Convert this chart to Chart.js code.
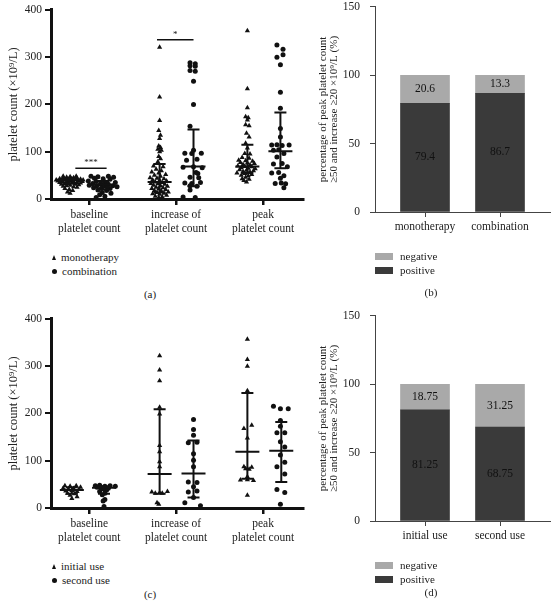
<!DOCTYPE html>
<html>
<head>
<meta charset="utf-8">
<script src="https://cdn.jsdelivr.net/npm/chart.js@4/dist/chart.umd.min.js"></script>
<style>
  body { margin: 0; background: #fff; width: 551px; height: 607px; position: relative; overflow: hidden;
         font-family: "Liberation Serif", serif; color: #222; }
  canvas { position: absolute; }
  .leg { position: absolute; font-size: 11px; }
  .row { height: 14px; display: flex; align-items: center; }
  .tri { width: 0; height: 0; border-left: 2.5px solid transparent; border-right: 2.5px solid transparent;
         border-bottom: 5px solid #111; margin: 0 5px 0 3px; }
  .dot { width: 5px; height: 5px; border-radius: 50%; background: #111; margin: 0 5px 0 3px; }
  .sw { width: 18px; height: 7px; margin-right: 7px; }
  .cap { position: absolute; font-size: 11px; transform: translateX(-50%); }
</style>
</head>
<body>
<canvas id="chartA" width="360" height="240" style="left:0;top:0"></canvas>
<canvas id="chartB" width="241" height="250" style="left:310px;top:-10px"></canvas>
<canvas id="chartC" width="360" height="240" style="left:0;top:309px"></canvas>
<canvas id="chartD" width="241" height="250" style="left:310px;top:299px"></canvas>

<div class="leg" style="left:49px;top:250px">
  <div class="row"><span class="tri"></span>monotherapy</div>
  <div class="row"><span class="dot"></span>combination</div>
</div>
<div class="leg" style="left:49px;top:559px">
  <div class="row"><span class="tri"></span>initial use</div>
  <div class="row"><span class="dot"></span>second use</div>
</div>
<div class="leg" style="left:375px;top:249px">
  <div class="row"><span class="sw" style="background:#a9a9a9"></span>negative</div>
  <div class="row"><span class="sw" style="background:#3a3a3a"></span>positive</div>
</div>
<div class="leg" style="left:375px;top:558px">
  <div class="row"><span class="sw" style="background:#a9a9a9"></span>negative</div>
  <div class="row"><span class="sw" style="background:#3a3a3a"></span>positive</div>
</div>
<div class="cap" style="left:150px;top:288px">(a)</div>
<div class="cap" style="left:431px;top:286px">(b)</div>
<div class="cap" style="left:150px;top:588px">(c)</div>
<div class="cap" style="left:431px;top:586px">(d)</div>

<script>
Chart.defaults.font.family = '"Liberation Serif", serif';
Chart.defaults.color = '#222';

// shared axis labels
const scatterCategories = [['baseline', 'platelet count'], ['increase of', 'platelet count'], ['peak', 'platelet count']];
const categoryPositions = [1, 2, 3];
const countTicks = [0, 100, 200, 300, 400];
const percentTicks = [0, 50, 100, 150];

// panel (a): [x position, platelet count]
const monoBaseline = [[0.62,40],[0.66,43],[0.70,45],[0.74,46],[0.78,47],[0.82,45],[0.86,44],[0.90,42],[0.93,40],
  [0.64,38],[0.68,39],[0.72,41],[0.76,42],[0.80,43],[0.84,41],[0.88,39],[0.92,37],
  [0.66,35],[0.70,36],[0.74,37],[0.78,38],[0.82,37],[0.86,35],[0.90,34],
  [0.68,31],[0.72,32],[0.76,33],[0.80,34],[0.84,31],[0.88,30],
  [0.70,27],[0.74,28],[0.78,29],[0.82,26],[0.86,25],
  [0.72,22],[0.77,20],[0.81,18],[0.75,15],[0.78,12],[0.70,48],[0.85,48]];
const combBaseline = [[1.02,48],[1.10,47],[1.22,48],[1.28,46],[1.06,44],[1.16,43],[1.24,42],
  [0.99,38],[1.08,37],[1.18,36],[1.30,35],[1.04,33],[1.13,32],[1.22,31],
  [1.00,29],[1.09,28],[1.17,27],[1.27,28],[1.32,26],[1.05,24],[1.14,23],[1.24,22],
  [1.10,19],[1.20,18],[1.15,14],[1.25,12],[1.12,9],[1.18,6],[1.08,3],[1.21,25]];
const monoIncrease = [[1.81,321],[1.81,216],[1.81,166],[1.80,145],[1.82,135],[1.81,128],[1.80,112],[1.82,109],
  [1.79,105],[1.83,103],[1.81,100],[1.80,90],[1.82,85],[1.79,79],
  [1.74,70],[1.85,68],[1.77,63],[1.83,60],[1.72,57],[1.80,55],[1.88,52],[1.75,50],[1.82,48],[1.70,45],
  [1.78,44],[1.86,43],[1.73,40],[1.81,39],[1.89,38],[1.76,36],[1.84,35],[1.71,33],[1.79,32],[1.87,31],
  [1.74,29],[1.82,28],[1.90,27],[1.77,25],[1.85,24],[1.72,22],[1.80,21],[1.88,20],[1.75,18],[1.83,17],
  [1.91,15],[1.78,14],[1.86,12],[1.73,11],[1.81,10],[1.89,8],[1.76,6],[1.84,5],[1.80,3]];
const combIncrease = [[2.16,288],[2.22,286],[2.16,282],[2.22,281],[2.16,272],[2.22,270],[2.20,249],[2.20,200],
  [2.16,154],[2.20,103],[2.10,97],[2.18,96],[2.29,97],[2.12,82],[2.24,84],[2.08,67],[2.20,68],[2.30,66],
  [2.23,56],[2.25,54],[2.16,46],[2.26,45],[2.10,34],[2.18,33],[2.28,35],[2.16,28],[2.24,27],[2.16,19],
  [2.08,4],[2.22,3]];
const monoPeak = [[2.82,356],[2.82,233],[2.82,193],[2.80,174],[2.83,172],[2.82,167],[2.80,157],[2.84,155],
  [2.81,139],[2.84,131],[2.80,118],[2.82,108],[2.79,96],[2.85,95],
  [2.76,88],[2.84,86],[2.72,82],[2.80,81],[2.88,80],[2.74,77],[2.82,76],[2.90,75],[2.77,73],[2.85,72],
  [2.71,70],[2.79,69],[2.87,68],[2.75,66],[2.83,65],[2.91,64],[2.73,62],[2.81,61],[2.89,60],[2.77,58],
  [2.85,57],[2.70,55],[2.79,54],[2.87,52],[2.75,50],[2.83,49],[2.80,46],[2.76,43],[2.84,42],[2.78,39],[2.81,36]];
const combPeak = [[3.16,326],[3.23,317],[3.23,305],[3.16,300],[3.20,284],[3.20,226],[3.20,192],[3.20,149],
  [3.20,131],[3.10,114],[3.16,115],[3.22,113],[3.30,114],[3.12,103],[3.18,104],[3.24,96],[3.16,89],
  [3.12,74],[3.22,75],[3.28,68],[3.10,55],[3.18,56],[3.24,49],[3.20,44],[3.14,33],[3.21,34],[3.26,32],[3.24,24]];
const aCenters = [0.77, 1.16, 1.81, 2.20, 2.82, 3.20];
const aMedians = [40, 30, 36, 69, 69, 101];
const aQ1 = [33, 20, 14, 27, 55, 65];
const aQ3 = [44, 38, 74, 147, 115, 183];
const aSigFrom = [0.84, 1.78];
const aSigTo = [1.20, 2.20];
const aSigY = [65, 337];
const aSigText = ['***', '*'];

// panel (b)
const bCategories = ['monotherapy', 'combination'];
const bPositive = [79.4, 86.7];
const bNegative = [20.6, 13.3];

// panel (c)
const initBaseline = [[0.72,47],[0.78,46],[0.85,47],[0.90,44],[0.70,42],[0.76,40],[0.82,41],[0.88,39],
  [0.73,36],[0.80,37],[0.86,35],[0.75,31],[0.83,30],[0.78,27],[0.86,24],[0.80,20]];
const secondBaseline = [[1.07,47],[1.12,48],[1.18,46],[1.24,47],[1.30,46],[1.09,44],[1.16,43],[1.22,42],
  [1.14,40],[1.20,38],[1.12,35],[1.18,31],[1.15,28],[1.18,18],[1.16,15],[1.17,3]];
const initIncrease = [[1.81,322],[1.81,292],[1.81,269],[1.81,213],[1.81,199],[1.81,132],[1.81,119],[1.81,98],
  [1.81,87],[1.72,34],[1.76,31],[1.81,32],[1.84,31],[1.90,35],[1.78,11],[1.80,8]];
const secondIncrease = [[2.20,187],[2.20,166],[2.20,154],[2.14,138],[2.24,139],[2.20,115],[2.20,101],[2.20,87],
  [2.14,55],[2.24,54],[2.20,45],[2.14,34],[2.24,36],[2.20,22],[2.10,11],[2.28,5]];
const initPeak = [[2.82,357],[2.82,314],[2.82,300],[2.82,248],[2.78,168],[2.87,175],[2.82,148],[2.78,87],
  [2.87,86],[2.80,83],[2.84,82],[2.82,66],[2.74,59],[2.82,60],[2.89,58],[2.82,27]];
const secondPeak = [[3.12,215],[3.20,210],[3.29,210],[3.20,185],[3.20,173],[3.16,159],[3.25,159],[3.20,140],
  [3.25,129],[3.20,112],[3.25,97],[3.16,87],[3.25,72],[3.16,39],[3.25,33],[3.20,8]];
const cCenters = [0.80, 1.17, 1.81, 2.20, 2.82, 3.21];
const cMedians = [38, 43, 72, 73, 119, 121];
const cQ1 = [30, 30, 30, 22, 62, 55];
const cQ3 = [44, 46, 209, 143, 243, 182];

// panel (d)
const dCategories = ['initial use', 'second use'];
const dPositive = [81.25, 68.75];
const dNegative = [18.75, 31.25];

const ink = '#111';

const errorBarPlugin = {
  id: 'errorBars',
  afterDatasetsDraw(chart, args, opts) {
    const {ctx, scales: {x, y}} = chart;
    ctx.save();
    ctx.strokeStyle = ink;
    ctx.lineWidth = 2;
    opts.centers.forEach((c, i) => {
      const px = x.getPixelForValue(c);
      const pm = y.getPixelForValue(opts.medians[i]);
      const p1 = y.getPixelForValue(opts.q1[i]);
      const p3 = y.getPixelForValue(opts.q3[i]);
      ctx.beginPath();
      ctx.moveTo(px, p1); ctx.lineTo(px, p3);
      ctx.moveTo(px - 12, pm); ctx.lineTo(px + 12, pm);
      ctx.moveTo(px - 6, p1); ctx.lineTo(px + 6, p1);
      ctx.moveTo(px - 6, p3); ctx.lineTo(px + 6, p3);
      ctx.stroke();
    });
    ctx.restore();
  }
};

const sigPlugin = {
  id: 'sigBars',
  afterDatasetsDraw(chart, args, opts) {
    if (!opts.from) return;
    const {ctx, scales: {x, y}} = chart;
    ctx.save();
    ctx.strokeStyle = ink;
    ctx.fillStyle = ink;
    ctx.lineWidth = 1.5;
    ctx.font = '9px "Liberation Serif", serif';
    ctx.textAlign = 'center';
    ctx.textBaseline = 'bottom';
    opts.from.forEach((f, i) => {
      const x1 = x.getPixelForValue(f), x2 = x.getPixelForValue(opts.to[i]);
      const py = y.getPixelForValue(opts.y[i]);
      ctx.beginPath();
      ctx.moveTo(x1, py); ctx.lineTo(x2, py);
      ctx.stroke();
      ctx.fillText(opts.text[i], (x1 + x2) / 2, py - 1);
    });
    ctx.restore();
  }
};

const barLabelPlugin = {
  id: 'barLabels',
  afterDatasetsDraw(chart) {
    const {ctx} = chart;
    ctx.save();
    ctx.fillStyle = ink;
    ctx.font = '11.5px "Liberation Serif", serif';
    ctx.textAlign = 'center';
    ctx.textBaseline = 'middle';
    chart.data.datasets.forEach((ds, di) => {
      chart.getDatasetMeta(di).data.forEach((bar, i) => {
        ctx.fillText(String(ds.data[i].y), bar.x, (bar.y + bar.base) / 2);
      });
    });
    ctx.restore();
  }
};

function pointSet(points, style) {
  return {
    data: points.map(p => ({x: p[0], y: p[1]})),
    pointStyle: style,
    pointRadius: style === 'triangle' ? 3 : 2.5,
    backgroundColor: ink,
    borderColor: ink,
    borderWidth: 0
  };
}

function makeScatter(canvasId, groups, stats, sig) {
  new Chart(document.getElementById(canvasId), {
    type: 'scatter',
    data: {datasets: groups},
    options: {
      responsive: false,
      animation: false,
      layout: {padding: {top: 9, right: 57, left: 0, bottom: 0}},
      plugins: {legend: {display: false}, tooltip: {enabled: false}, errorBars: stats, sigBars: sig},
      scales: {
        x: {
          type: 'linear', min: 0.56, max: 3.46,
          afterBuildTicks: s => { s.ticks = categoryPositions.map(v => ({value: v})); },
          afterFit: s => { s.height = 41; },
          border: {display: true, color: ink, width: 3},
          grid: {drawOnChartArea: false, tickLength: 6, color: ink, lineWidth: 2.5},
          ticks: {
            callback: v => scatterCategories[categoryPositions.indexOf(v)],
            font: {size: 11.5}, padding: 3, maxRotation: 0, autoSkip: false
          }
        },
        y: {
          min: 0, max: 400,
          afterBuildTicks: s => { s.ticks = countTicks.map(v => ({value: v})); },
          afterFit: s => { s.width = 51; },
          border: {display: true, color: ink, width: 3},
          grid: {drawOnChartArea: false, tickLength: 6, color: ink, lineWidth: 2},
          ticks: {font: {size: 11.5}, padding: 3},
          title: {display: true, text: 'platelet count (×10⁹/L)', font: {size: 12.5}, padding: {top: 6, bottom: 2}}
        }
      }
    },
    plugins: [errorBarPlugin, sigPlugin]
  });
}

function makeBars(canvasId, categories, positive, negative) {
  const toPoints = arr => arr.map((v, i) => ({x: i + 1, y: v}));
  new Chart(document.getElementById(canvasId), {
    type: 'bar',
    data: {
      datasets: [
        {label: 'positive', data: toPoints(positive), backgroundColor: '#3a3a3a', barThickness: 49},
        {label: 'negative', data: toPoints(negative), backgroundColor: '#a9a9a9', barThickness: 49}
      ]
    },
    options: {
      responsive: false,
      animation: false,
      layout: {padding: {top: 13, right: 1, left: 0, bottom: 0}},
      plugins: {legend: {display: false}, tooltip: {enabled: false}},
      scales: {
        x: {
          type: 'linear', stacked: true, offset: false, min: 1 / 3, max: 8 / 3,
          afterBuildTicks: s => { s.ticks = categories.map((c, i) => ({value: i + 1})); },
          afterFit: s => { s.height = 28; },
          border: {display: true, color: '#444', width: 1},
          grid: {offset: false, drawOnChartArea: false, tickLength: 5, color: '#444', lineWidth: 1},
          ticks: {callback: v => categories[v - 1], font: {size: 11.5}, padding: 3, maxRotation: 0, autoSkip: false}
        },
        y: {
          stacked: true, min: 0, max: 150,
          afterBuildTicks: s => { s.ticks = percentTicks.map(v => ({value: v})); },
          afterFit: s => { s.width = 65; },
          border: {display: true, color: '#444', width: 1},
          grid: {drawOnChartArea: false, tickLength: 5, color: '#444', lineWidth: 1},
          ticks: {font: {size: 11.5}, padding: 10},
          title: {
            display: true,
            text: ['percentage of peak platelet count', '≥50 and increase ≥20 ×10⁹/L (%)'],
            font: {size: 11, lineHeight: 1.0}, padding: {top: 8, bottom: 0}
          }
        }
      }
    },
    plugins: [barLabelPlugin]
  });
}

makeScatter('chartA',
  [pointSet(monoBaseline, 'triangle'), pointSet(combBaseline, 'circle'),
   pointSet(monoIncrease, 'triangle'), pointSet(combIncrease, 'circle'),
   pointSet(monoPeak, 'triangle'), pointSet(combPeak, 'circle')],
  {centers: aCenters, medians: aMedians, q1: aQ1, q3: aQ3},
  {from: aSigFrom, to: aSigTo, y: aSigY, text: aSigText});

makeScatter('chartC',
  [pointSet(initBaseline, 'triangle'), pointSet(secondBaseline, 'circle'),
   pointSet(initIncrease, 'triangle'), pointSet(secondIncrease, 'circle'),
   pointSet(initPeak, 'triangle'), pointSet(secondPeak, 'circle')],
  {centers: cCenters, medians: cMedians, q1: cQ1, q3: cQ3},
  {});

makeBars('chartB', bCategories, bPositive, bNegative);
makeBars('chartD', dCategories, dPositive, dNegative);
</script>
</body>
</html>
